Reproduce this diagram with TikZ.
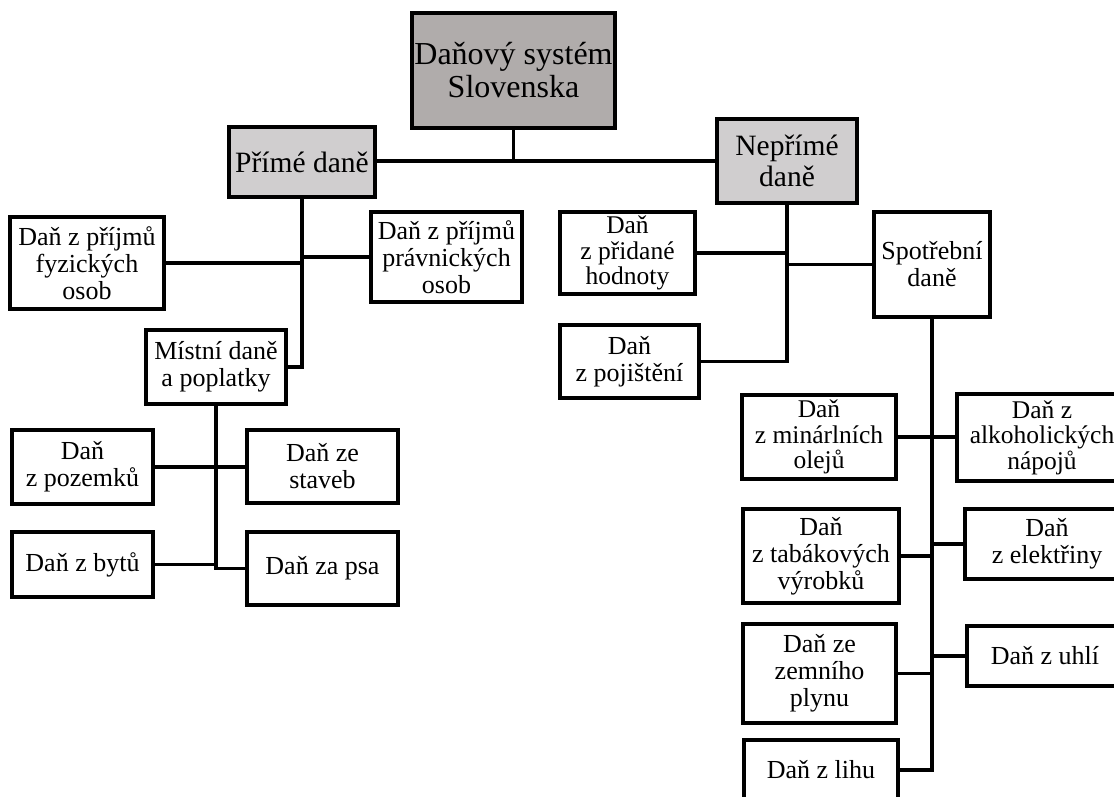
\documentclass[tikz,border=0pt]{standalone}
\usepackage{fontspec}
\setmainfont{Liberation Serif}
\definecolor{topgray}{HTML}{B0ACAB}
\definecolor{midgray}{HTML}{D0CECF}
\tikzset{
  box/.style={draw=black, line width=3.1pt, inner sep=0pt, align=center, fill=white,
    font=\fontsize{26}{27}\selectfont},
  tight/.style={font=\fontsize{25.5}{25.5}\selectfont},
  topbox/.style={box, fill=topgray, font=\fontsize{32}{33}\selectfont},
  midbox/.style={box, fill=midgray, font=\fontsize{29.5}{31}\selectfont},
  conn/.style={draw=black, line width=3.1pt}
}
\begin{document}
\begin{tikzpicture}[x=1pt, y=-1pt]
\useasboundingbox (0,0) rectangle (1114,796);
\clip (0,0) rectangle (1114,796);
\fill[white] (0,0) rectangle (1114,796);
% nodes
\node[topbox, minimum width=203pt, minimum height=115pt] (top) at (513.5,70.5) {Daňový systém\\Slovenska};
\node[midbox, minimum width=146pt, minimum height=70pt] (prime) at (302,162) {Přímé daně};
\node[midbox, minimum width=140pt, minimum height=84pt] (neprime) at (787,161) {Nepřímé\\daně};
\node[box, minimum width=154pt, minimum height=92pt] (fyz) at (87,263) {Daň z příjmů\\fyzických\\osob};
\node[box, minimum width=151pt, minimum height=90pt] (prav) at (446.5,257) {Daň z příjmů\\právnických\\osob};
\node[box, minimum width=140pt, minimum height=74pt] (mistni) at (216,367) {Místní daně\\a poplatky};
\node[box, minimum width=141pt, minimum height=74pt] (pozemku) at (82.5,467) {Daň\\z pozemků};
\node[box, minimum width=151pt, minimum height=73pt] (staveb) at (322.5,466.5) {Daň ze\\staveb};
\node[box, minimum width=141pt, minimum height=65pt] (bytu) at (82.5,564.5) {Daň z bytů};
\node[box, minimum width=151pt, minimum height=73pt] (psa) at (322.5,568.5) {Daň za psa};
\node[box, tight, minimum width=135pt, minimum height=82pt] (pridane) at (627.5,253) {Daň\\z přidané\\hodnoty};
\node[box, minimum width=139pt, minimum height=73pt] (pojisteni) at (629.5,361.5) {Daň\\z pojištění};
\node[box, minimum width=116pt, minimum height=105pt] (spotrebni) at (932,264.5) {Spotřební\\daně};
\node[box, tight, minimum width=154pt, minimum height=84pt] (mineral) at (819,437) {Daň\\z minárlních\\olejů};
\node[box, tight, minimum width=170pt, minimum height=87pt] (alkohol) at (1042,437.5) {Daň z\\alkoholických\\nápojů};
\node[box, minimum width=156pt, minimum height=94pt] (tabak) at (821,556) {Daň\\z tabákových\\výrobků};
\node[box, minimum width=164pt, minimum height=70pt] (elektriny) at (1047,544) {Daň\\z elektřiny};
\node[box, minimum width=153pt, minimum height=99pt] (zemni) at (819.5,673.5) {Daň ze\\zemního\\plynu};
\node[box, minimum width=156pt, minimum height=60pt] (uhli) at (1045,656) {Daň z uhlí};
\node[box, minimum width=154pt, minimum height=60pt] (lihu) at (821,770) {Daň z lihu};
\coordinate (j1) at (513.5,161);
% connectors
\draw[conn] (top.south) -- (j1);
\draw[conn] (prime.east |- j1) -- (neprime.west |- j1);
\draw[conn] (prime.south) -- (prime.south |- mistni.east) -- (mistni.east);
\draw[conn] (fyz.east) -- (prime.south |- fyz.east);
\draw[conn] (prav.west) -- (prime.south |- prav.west);
\draw[conn] (mistni.south) -- (mistni.south |- psa.west) -- (psa.west);
\draw[conn] (pozemku.east) -- (staveb.west |- pozemku.east);
\draw[conn] (bytu.east) -- (mistni.south |- bytu.east);
\draw[conn] (neprime.south) -- (neprime.south |- pojisteni.east) -- (pojisteni.east);
\draw[conn] (pridane.east) -- (neprime.south |- pridane.east);
\draw[conn] (spotrebni.west) -- (neprime.south |- spotrebni.west);
\draw[conn] (spotrebni.south) -- (spotrebni.south |- lihu.east) -- (lihu.east);
\draw[conn] (mineral.east) -- (alkohol.west |- mineral.east);
\draw[conn] (tabak.east) -- (spotrebni.south |- tabak.east);
\draw[conn] (elektriny.west) -- (spotrebni.south |- elektriny.west);
\draw[conn] (zemni.east) -- (spotrebni.south |- zemni.east);
\draw[conn] (uhli.west) -- (spotrebni.south |- uhli.west);
\end{tikzpicture}
\end{document}
